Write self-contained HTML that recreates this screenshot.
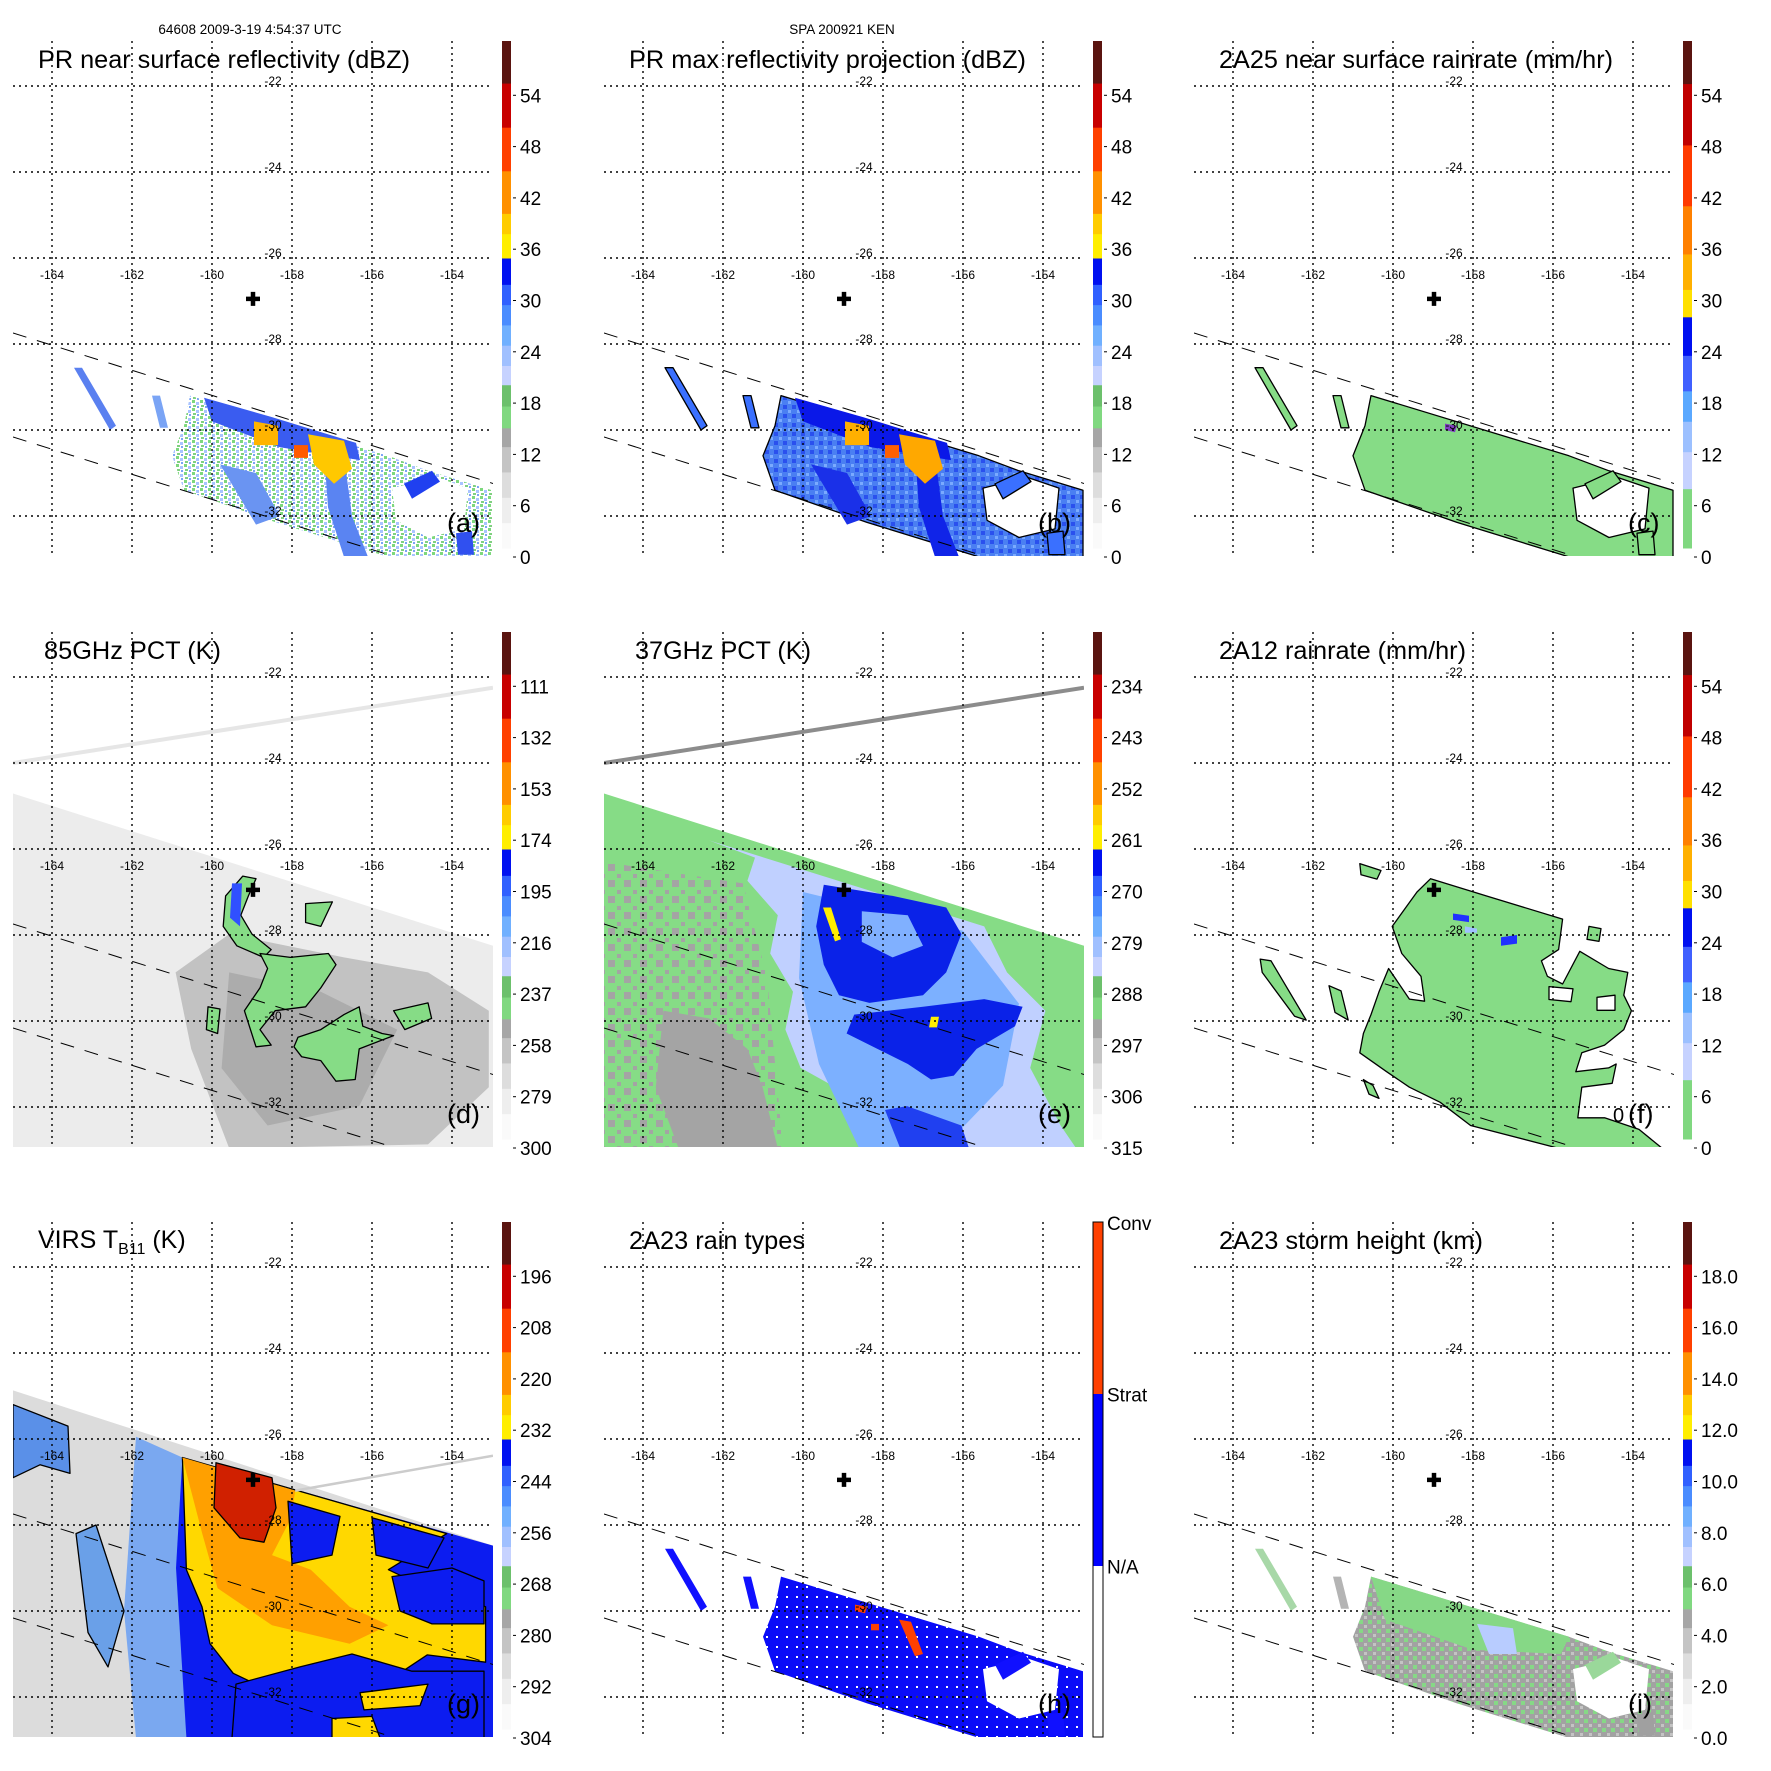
<!DOCTYPE html>
<html><head><meta charset="utf-8">
<style>
html,body{margin:0;padding:0;background:#fff;}
svg{display:block;font-family:"Liberation Sans",Arial,sans-serif;}
</style></head>
<body>
<svg id="fig" xmlns="http://www.w3.org/2000/svg" width="1771" height="1771" viewBox="0 0 1771 1771">
<defs>
<pattern id="spkA" width="8" height="8" patternUnits="userSpaceOnUse">
<rect x="0" y="0" width="3" height="3" fill="#7dd87d"/><rect x="4" y="2" width="3" height="3" fill="#a9c4ff"/>
<rect x="1" y="5" width="3" height="2" fill="#80d080"/><rect x="5" y="6" width="2" height="2" fill="#7aa4f5"/>
</pattern>
<pattern id="spkB" width="9" height="9" patternUnits="userSpaceOnUse">
<rect width="9" height="9" fill="#4a7ff2"/><rect x="0" y="0" width="4" height="4" fill="#2a50ee"/><rect x="5" y="5" width="3" height="3" fill="#7aaaff"/>
</pattern>
<pattern id="spkH" width="10" height="10" patternUnits="userSpaceOnUse">
<rect width="10" height="10" fill="#0a0cf8"/><rect x="6" y="6" width="2" height="2" fill="#ffffff"/>
</pattern>
<pattern id="spkI" width="9" height="9" patternUnits="userSpaceOnUse">
<rect width="9" height="9" fill="#a2a2a2"/><rect x="0" y="0" width="4" height="4" fill="#86d886"/><rect x="5" y="5" width="3" height="3" fill="#c4c4c4"/>
</pattern>
<pattern id="spkE" width="16" height="16" patternUnits="userSpaceOnUse">
<rect width="16" height="16" fill="#86dc86"/><rect x="0" y="0" width="7" height="7" fill="#a4a4a4"/><rect x="9" y="10" width="4" height="4" fill="#a4a4a4"/>
</pattern>
</defs>
<g id="layer"></g>
</svg>
<script>
// ---- layout (panel offsets) ----
const OX=[0,591,1181], OY=[0,591,1181];
// ---- axis data ----
const lonTicks=[-164,-162,-160,-158,-156,-154];
const latTicks=[-22,-24,-26,-28,-30,-32];
const panelLetters=['(a)','(b)','(c)','(d)','(e)','(f)','(g)','(h)','(i)'];
const titles=['PR near surface reflectivity (dBZ)','PR max reflectivity projection (dBZ)','2A25 near surface rainrate (mm/hr)','85GHz PCT (K)','37GHz PCT (K)','2A12 rainrate (mm/hr)','VIRS','2A23 rain types','2A23 storm height (km)'];
const titleLen=[372,397,394,177,176,247,0,176,264];
const centerLonLat=[-158.975,-26.95];
const swathUpper=[[-164.975,-27.744],[-152.975,-31.244]];
const swathLower=[[-164.975,-30.163],[-152.975,-33.663]];
// ---- colorbar tick labels (bottom to top) ----
const cbLabelsA=['0','6','12','18','24','30','36','42','48','54'];
const cbLabelsB=['0','6','12','18','24','30','36','42','48','54'];
const cbLabelsC=['0','6','12','18','24','30','36','42','48','54'];
const cbLabelsD=['300','279','258','237','216','195','174','153','132','111'];
const cbLabelsE=['315','306','297','288','279','270','261','252','243','234'];
const cbLabelsF=['0','6','12','18','24','30','36','42','48','54'];
const cbLabelsG=['304','292','280','268','256','244','232','220','208','196'];
const cbLabelsH=['N/A','Strat','Conv'];
const cbLabelsI=['0.0','2.0','4.0','6.0','8.0','10.0','12.0','14.0','16.0','18.0'];
// ---- colorbar bands [fromFrac,toFrac,color] ----
const bandsA=[[0,.05,'#fafafa'],[.05,.1,'#eeeeee'],[.1,.15,'#dddddd'],[.15,.2,'#c4c4c4'],[.2,.237,'#a6a6a6'],[.237,.28,'#80d880'],[.28,.322,'#6cc06c'],[.322,.36,'#c6d2ff'],[.36,.4,'#a0c0ff'],[.4,.44,'#70b0ff'],[.44,.48,'#4a8cff'],[.48,.52,'#3060ff'],[.52,.572,'#0010f0'],[.572,.62,'#ffee00'],[.62,.66,'#ffcc00'],[.66,.744,'#ff9000'],[.744,.83,'#ff4000'],[.83,.917,'#c80000'],[.917,1,'#5a1410']];
const bandsC=[[0,.117,'#80d880'],[.117,.19,'#c6d2ff'],[.19,.25,'#9cc0ff'],[.25,.31,'#5aa8ff'],[.31,.38,'#4060ff'],[.38,.456,'#0010f0'],[.456,.51,'#ffe000'],[.51,.58,'#ffb000'],[.58,.675,'#ff8000'],[.675,.795,'#ff3a00'],[.795,.916,'#c00000'],[.916,1,'#5a1410']];
const bandsH=[[0,.333,'#ffffff'],[.333,.667,'#0000ff'],[.667,1,'#ff4000']];
// ---- map features [lon,lat] ----
const MAIN=[[-160.55,-29.2],[-155.6,-30.6],[-154.6,-30.95],[-153.0,-31.4],[-153,-32.95],[-155.6,-32.95],[-158.4,-32.15],[-160.7,-31.4],[-161.0,-30.6],[-160.7,-29.9]];
const HOLE=[[-155.5,-31.35],[-154.4,-31.1],[-153.6,-31.35],[-153.7,-32.3],[-154.6,-32.5],[-155.4,-32.1]];
const STREAK1=[[-163.45,-28.55],[-163.25,-28.55],[-162.4,-29.9],[-162.55,-30.0]];
const STREAK2=[[-161.5,-29.2],[-161.3,-29.2],[-161.1,-29.95],[-161.3,-29.95]];
const BAND1=[[-160.2,-29.25],[-158.5,-29.7],[-156.4,-30.3],[-156.3,-30.7],[-158.3,-30.4],[-160.0,-29.8]];
const BAND2=[[-157.2,-30.5],[-156.7,-30.6],[-156.5,-32.0],[-156.1,-32.95],[-156.7,-32.95],[-157.1,-31.8]];
const BAND3=[[-159.8,-30.8],[-158.9,-31.0],[-158.3,-32.0],[-158.9,-32.2]];
const YEL1=[[-158.95,-29.8],[-158.35,-29.9],[-158.35,-30.35],[-158.95,-30.35]];
const YEL2=[[-157.6,-30.1],[-156.7,-30.25],[-156.5,-30.9],[-156.95,-31.25],[-157.45,-30.8]];
const ORG=[[-157.95,-30.35],[-157.6,-30.35],[-157.6,-30.65],[-157.95,-30.65]];
const RIGHTF=[[-155.2,-31.25],[-154.5,-30.95],[-154.3,-31.2],[-155.0,-31.6]];
const BLOBR=[[-153.9,-32.4],[-153.5,-32.35],[-153.45,-32.9],[-153.85,-32.9]];
const GREENI=[[-160.55,-29.2],[-155.6,-30.6],[-155.8,-31.0],[-158.0,-30.9],[-160.2,-30.2]];
const SPOTI=[[-157.9,-30.3],[-157.0,-30.4],[-156.9,-31.0],[-157.6,-31.0]];
const RED1=[[-158.7,-29.85],[-158.4,-29.9],[-158.45,-30.05],[-158.7,-30.0]];
const RED2=[[-157.6,-30.2],[-157.3,-30.25],[-157.0,-31.0],[-157.2,-31.05]];
const RED3=[[-158.3,-30.3],[-158.1,-30.3],[-158.1,-30.45],[-158.3,-30.45]];
const FIELD2=[[-164.975,-24.71],[-152.975,-28.25],[-152.975,-32.95],[-164.975,-32.95]];
const LINE2=[[-164.975,-24.0],[-152.975,-22.25]];
const FIELD3=[[-164.975,-24.87],[-152.975,-28.48],[-152.975,-32.95],[-164.975,-32.95]];
const LINE3=[[-157.92,-27.2],[-152.975,-26.39]];
// panel d
const D_DARK1=[[-160.91,-28.87],[-159.57,-27.98],[-156.7,-28.52],[-154.6,-28.87],[-153.08,-29.76],[-153.08,-31.54],[-154.6,-32.87],[-159.57,-32.96],[-160.52,-30.65]];
const D_DARK2=[[-159.57,-28.87],[-157.28,-29.32],[-155.37,-30.2],[-156.32,-31.98],[-158.61,-32.43],[-159.76,-31.1]];
const D_ARC=[[-159.23,-26.63],[-158.9,-26.69],[-159.09,-27.09],[-159.28,-27.54],[-159.0,-27.98],[-158.52,-28.34],[-158.71,-28.52],[-159.38,-28.25],[-159.72,-27.8],[-159.66,-27.09]];
const D_BODY=[[-158.8,-28.43],[-158.04,-28.52],[-157.09,-28.43],[-156.9,-28.69],[-157.28,-29.23],[-157.66,-29.67],[-158.42,-29.76],[-158.8,-30.2],[-158.52,-30.56],[-158.9,-30.6],[-159.19,-29.76],[-158.8,-29.23],[-158.61,-28.78]];
const D_B3=[[-157.66,-27.27],[-156.99,-27.23],[-157.28,-27.8],[-157.66,-27.71]];
const D_B4=[[-157.85,-30.38],[-157.28,-30.2],[-156.7,-29.85],[-156.32,-29.67],[-156.23,-30.12],[-155.75,-30.29],[-155.46,-30.34],[-156.32,-30.65],[-156.42,-31.36],[-156.9,-31.4],[-157.28,-30.92],[-157.76,-30.83],[-157.95,-30.6]];
const D_B5=[[-155.46,-29.76],[-154.6,-29.58],[-154.51,-29.94],[-155.18,-30.2]];
const D_B6=[[-160.1,-29.67],[-159.8,-29.72],[-159.86,-30.29],[-160.14,-30.2]];
const D_BLUE=[[-159.5,-26.8],[-159.25,-26.8],[-159.3,-27.8],[-159.55,-27.6]];
// panel e
const E_GRAYP=[[-164.975,-26.3],[-161.5,-26.8],[-160.9,-29.0],[-160.5,-32.95],[-164.975,-32.95]];
const E_GRAY=[[-163.49,-29.76],[-162.35,-29.94],[-161.39,-30.65],[-161.01,-31.54],[-160.63,-32.96],[-163.11,-32.96],[-163.68,-31.54]];
const E_LBLUE=[[-162.35,-25.8],[-155.47,-27.8],[-154.9,-28.87],[-153.94,-29.76],[-154.32,-31.09],[-153.56,-32.43],[-153.17,-32.96],[-157.38,-32.96],[-158.34,-31.98],[-160.06,-31.09],[-160.44,-30.2],[-160.25,-29.32],[-160.82,-28.43],[-160.63,-27.54],[-161.39,-26.74],[-161.2,-26.2]];
const E_MBLUE=[[-160.0,-27.0],[-156.0,-27.9],[-154.6,-29.6],[-155.0,-31.5],[-156.5,-32.95],[-158.6,-32.95],[-159.6,-31.0],[-160.1,-29.0]];
const E_DA=[[-159.48,-26.83],[-157.76,-27.09],[-156.42,-27.36],[-156.04,-27.98],[-156.42,-28.87],[-157.0,-29.4],[-158.34,-29.58],[-159.1,-29.4],[-159.48,-28.69],[-159.67,-27.8]];
const E_IN=[[-158.53,-27.45],[-157.38,-27.54],[-157.0,-28.25],[-157.76,-28.52],[-158.53,-28.16]];
const E_DB=[[-158.72,-29.85],[-157.0,-29.67],[-155.47,-29.49],[-154.51,-29.67],[-154.7,-30.12],[-155.66,-30.65],[-156.23,-31.27],[-156.8,-31.36],[-157.38,-31.0],[-158.14,-30.65],[-158.91,-30.29]];
const E_TAIL=[[-157.95,-32.07],[-157.4,-31.98],[-156.04,-32.43],[-155.85,-32.96],[-157.57,-32.96]];
const E_Y1=[[-159.5,-27.36],[-159.3,-27.36],[-159.05,-28.1],[-159.2,-28.15]];
const E_Y2=[[-156.8,-29.9],[-156.6,-29.9],[-156.65,-30.15],[-156.85,-30.15]];
// panel f
const F_MAIN=[[-159.06,-26.69],[-157.67,-27.09],[-155.76,-27.63],[-155.86,-28.34],[-156.29,-28.6],[-156.14,-28.96],[-155.76,-29.14],[-155.33,-28.38],[-154.61,-28.78],[-154.13,-28.87],[-154.23,-29.4],[-154.04,-29.76],[-154.23,-30.2],[-154.71,-30.56],[-155.28,-30.74],[-155.43,-31.18],[-154.61,-31.09],[-154.42,-31.0],[-154.52,-31.45],[-155.28,-31.54],[-155.38,-32.25],[-154.71,-32.25],[-153.85,-32.52],[-153.27,-32.96],[-155.86,-32.96],[-158.06,-32.43],[-158.82,-31.89],[-159.59,-31.54],[-160.16,-31.18],[-160.83,-30.74],[-160.74,-30.29],[-160.55,-29.85],[-160.35,-29.32],[-160.11,-28.78],[-159.59,-29.49],[-159.21,-29.54],[-159.3,-28.96],[-159.78,-28.43],[-160.02,-27.8],[-159.68,-27.36],[-159.4,-27.0]];
const F_HOLE1=[[-156.1,-29.2],[-155.5,-29.25],[-155.55,-29.55],[-156.1,-29.5]];
const F_HOLE2=[[-154.9,-29.45],[-154.45,-29.4],[-154.45,-29.75],[-154.9,-29.75]];
const F_S1=[[-163.32,-28.56],[-163.05,-28.6],[-162.17,-29.98],[-162.46,-29.89],[-163.27,-28.87]];
const F_S2=[[-161.6,-29.18],[-161.3,-29.3],[-161.12,-29.98],[-161.45,-29.8]];
const F_S3=[[-160.83,-26.34],[-160.3,-26.5],[-160.4,-26.7],[-160.8,-26.6]];
const F_S4=[[-160.74,-31.36],[-160.5,-31.5],[-160.35,-31.8],[-160.6,-31.7]];
const F_S5=[[-155.1,-27.8],[-154.8,-27.85],[-154.85,-28.15],[-155.15,-28.1]];
const F_BL1=[[-158.5,-27.5],[-158.1,-27.55],[-158.1,-27.7],[-158.5,-27.65]];
const F_BL2=[[-157.3,-28.05],[-156.9,-28.0],[-156.9,-28.2],[-157.3,-28.25]];
const F_BL3=[[-158.2,-27.8],[-157.9,-27.85],[-157.9,-27.95],[-158.2,-27.95]];
// panel g
const G_LB=[[-161.9,-25.95],[-160.74,-26.43],[-160.64,-32.95],[-161.9,-32.95],[-162.2,-30]];
const G_BL1=[[-164.975,-25.2],[-163.6,-25.7],[-163.55,-26.8],[-164.3,-26.6],[-164.975,-26.9]];
const G_BL2=[[-163.4,-28.2],[-162.9,-28.0],[-162.2,-30.0],[-162.6,-31.3],[-163.1,-30.5]];
const G_BLUE=[[-160.74,-26.43],[-152.975,-28.48],[-152.975,-32.95],[-160.64,-32.95],[-160.9,-29]];
const G_YEL=[[-160.74,-26.43],[-154.13,-28.2],[-155.59,-29.04],[-154.62,-29.47],[-153.16,-29.9],[-153.16,-31.19],[-154.62,-31.02],[-155.59,-31.62],[-156.76,-31.88],[-158.5,-31.88],[-159.47,-31.45],[-160.05,-30.76],[-160.25,-29.9],[-160.64,-29.04]];
const G_ORG=[[-160.74,-26.43],[-157.92,-27.2],[-158.02,-27.83],[-158.5,-28.7],[-157.53,-29.04],[-156.56,-29.9],[-155.59,-30.33],[-156.56,-30.76],[-158.5,-30.33],[-159.86,-29.47],[-160.25,-28.18]];
const G_RED=[[-159.9,-26.55],[-158.5,-26.9],[-158.4,-27.6],[-158.7,-28.4],[-159.3,-28.3],[-159.95,-27.6]];
const G_BP1=[[-158.1,-27.45],[-156.8,-27.8],[-157.0,-28.7],[-158.0,-28.9]];
const G_BP2=[[-156.0,-27.83],[-154.2,-28.3],[-154.6,-29.0],[-155.9,-28.7]];
const G_BP3=[[-157.8,-31.3],[-156.5,-31.0],[-155.0,-31.4],[-153.2,-31.4],[-153.2,-32.95],[-159.5,-32.95],[-159.4,-31.7]];
const G_YI1=[[-156.3,-31.9],[-154.6,-31.7],[-154.8,-32.2],[-156.2,-32.3]];
const G_YI2=[[-157.0,-32.5],[-156.0,-32.45],[-155.8,-32.95],[-157.0,-32.95]];
const G_BP4=[[-155.5,-29.2],[-154.0,-29.0],[-153.2,-29.3],[-153.2,-30.3],[-154.5,-30.3],[-155.3,-30.0]];

// ---- helpers ----
const NS='http://www.w3.org/2000/svg';
const root=document.getElementById('layer');
function X(p,lon){return OX[p%3]+52+(lon+164)*40;}
function Y(p,lat){return OY[Math.floor(p/3)]+86+(-22-lat)*43;}
function mk(tag,attrs,parent){const e=document.createElementNS(NS,tag);for(const k in attrs)e.setAttribute(k,attrs[k]);(parent||root).appendChild(e);return e;}
function poly(g,p,pts,fill,stroke,sw,name){
  const el=mk('polygon',{points:pts.map(q=>X(p,q[0]).toFixed(1)+','+Y(p,q[1]).toFixed(1)).join(' '),fill:fill,stroke:stroke||'none','stroke-width':sw||1.3,'stroke-linejoin':'round'},g);
  
  
  return el;
}
function line2(g,p,pts,color,w,dash,name){
  const el=mk('line',{x1:X(p,pts[0][0]),y1:Y(p,pts[0][1]),x2:X(p,pts[1][0]),y2:Y(p,pts[1][1]),stroke:color,'stroke-width':w},g);
  if(dash)el.setAttribute('stroke-dasharray',dash);
  
  
  return el;
}

const panelShapes=[
 [[MAIN,'url(#spkA)','none'],[HOLE,'#fff','none'],[BAND1,'#3a5cf0','none'],[BAND2,'#5a84f2','none'],[BAND3,'#6a94f2','none'],[YEL1,'#ffb400','none'],[YEL2,'#ffc800','none'],[ORG,'#ff5a00','none'],[STREAK1,'#5a80f0','none'],[STREAK2,'#7aa4f5','none'],[RIGHTF,'#2040f0','none'],[BLOBR,'#3050f0','none']],
 [[MAIN,'url(#spkB)','#000'],[HOLE,'#fff','#000'],[BAND1,'#0a18e8','none'],[BAND2,'#1024e8','none'],[BAND3,'#1a30e8','none'],[YEL1,'#ffb000','none'],[YEL2,'#ffa800','none'],[ORG,'#ff6000','none'],[STREAK1,'#3a70ff','#000'],[STREAK2,'#3a70ff','#000'],[RIGHTF,'#3a70ff','#000'],[BLOBR,'#3a70ff','#000']],
 [[MAIN,'#86dc86','#000'],[HOLE,'#fff','#000'],[STREAK1,'#86dc86','#000'],[STREAK2,'#86dc86','#000'],[RED1,'#8040c0','none'],[RIGHTF,'#86dc86','#000'],[BLOBR,'#86dc86','#000']],
 [[FIELD2,'#ececec','none'],[D_DARK1,'#c2c2c2','none'],[D_DARK2,'#acacac','none'],[D_ARC,'#86dc86','#000'],[D_BLUE,'#3050ff','none'],[D_BODY,'#86dc86','#000'],[D_B3,'#86dc86','#000'],[D_B4,'#86dc86','#000'],[D_B5,'#86dc86','#000'],[D_B6,'#86dc86','#000']],
 [[FIELD2,'#86dc86','none'],[E_GRAYP,'url(#spkE)','none'],[E_GRAY,'#a4a4a4','none'],[E_LBLUE,'#c0d0ff','none'],[E_MBLUE,'#7cb0ff','none'],[E_DA,'#0a22e8','none'],[E_IN,'#80b0ff','none'],[E_DB,'#0a22e8','none'],[E_TAIL,'#2040f0','none'],[E_Y1,'#ffee00','none'],[E_Y2,'#ffee00','none']],
 [[F_MAIN,'#86dc86','#000'],[F_HOLE1,'#fff','#000'],[F_HOLE2,'#fff','#000'],[F_S1,'#86dc86','#000'],[F_S2,'#86dc86','#000'],[F_S3,'#86dc86','#000'],[F_S4,'#86dc86','#000'],[F_S5,'#86dc86','#000'],[F_BL1,'#2030ff','none'],[F_BL2,'#2030ff','none'],[F_BL3,'#a0c0ff','none']],
 [[FIELD3,'#dcdcdc','none'],[G_LB,'#7aa8f0','none'],[G_BL1,'#5a90e8','#000'],[G_BL2,'#6aa0e8','#000'],[G_BLUE,'#0c1cf0','none'],[G_YEL,'#ffd800','#000'],[G_ORG,'#ffa000','none'],[G_RED,'#d02000','#000'],[G_BP1,'#0c1cf0','#000'],[G_BP2,'#0c1cf0','#000'],[G_BP4,'#0c1cf0','#000'],[G_BP3,'#0c1cf0','#000'],[G_YI1,'#ffd800','#000'],[G_YI2,'#ffd800','#000']],
 [[MAIN,'url(#spkH)','none'],[HOLE,'#fff','none'],[STREAK1,'#1010ff','none'],[STREAK2,'#1010ff','none'],[RED1,'#ff4000','none'],[RED2,'#ff4000','none'],[RED3,'#ff4000','none'],[RIGHTF,'#1010ff','none'],[BLOBR,'#1010ff','none']],
 [[MAIN,'url(#spkI)','none'],[GREENI,'#86d886','none'],[SPOTI,'#b8ccff','none'],[HOLE,'#fff','none'],[STREAK1,'#a8d8a8','none'],[STREAK2,'#b4b4b4','none'],[RIGHTF,'#9ad89a','none'],[BLOBR,'#a0a0a0','none']]
];
const panelLines=[null,null,null,[LINE2,'#e6e6e6',4],[LINE2,'#8c8c8c',4],null,[LINE3,'#cccccc',2.5],null,null];
const cbLabelSets=[cbLabelsA,cbLabelsB,cbLabelsC,cbLabelsD,cbLabelsE,cbLabelsF,cbLabelsG,cbLabelsH,cbLabelsI];
const cbBandSets=[bandsA,bandsA,bandsC,bandsA,bandsA,bandsC,bandsA,bandsH,bandsA];

// header
let t=mk('text',{x:250,y:34,'font-size':13.5,'text-anchor':'middle',fill:'#000'});
t.textContent='64608 2009-3-19 4:54:37 UTC';


t=mk('text',{x:842,y:34,'font-size':13.5,'text-anchor':'middle',fill:'#000'});
t.textContent='SPA 200921 KEN';



for(let p=0;p<9;p++){
  const ox=OX[p%3], oy=OY[Math.floor(p/3)];
  const g=mk('g',{});
  
  
  const cp=mk('clipPath',{id:'cp'+p},g);
  mk('rect',{x:ox+13,y:oy+41,width:480,height:515},cp);
  const dg=mk('g',{'clip-path':'url(#cp'+p+')'},g);
  
  
  panelShapes[p].forEach((s,i)=>poly(dg,p,s[0],s[1],s[2],1.3,'data-region-'+i));
  if(panelLines[p]) line2(dg,p,panelLines[p][0],panelLines[p][1],panelLines[p][2],null,'scan-edge-line');
  line2(dg,p,swathUpper,'#000',1,'14,11','swath-edge-upper');
  line2(dg,p,swathLower,'#000',1,'14,11','swath-edge-lower');
  // grid
  lonTicks.forEach(lon=>{
    const el=mk('line',{x1:X(p,lon),x2:X(p,lon),y1:oy+41,y2:oy+556,stroke:'#000','stroke-width':1.4,'stroke-dasharray':'2,4'},g);
    
    
    const tx=mk('text',{x:X(p,lon),y:oy+279,'font-size':12,'text-anchor':'middle',fill:'#000'},g);
    tx.textContent=String(lon);
    
    
  });
  latTicks.forEach(lat=>{
    const el=mk('line',{x1:ox+13,x2:ox+493,y1:Y(p,lat),y2:Y(p,lat),stroke:'#000','stroke-width':1.4,'stroke-dasharray':'2,4'},g);
    
    
    const tx=mk('text',{x:ox+273,y:Y(p,lat)-1,'font-size':12,'text-anchor':'middle',fill:'#000'},g);
    tx.textContent=String(lat);
    
    
  });
  // center cross
  const cx=X(p,centerLonLat[0]), cy=Y(p,centerLonLat[1]);
  const cr=mk('path',{d:`M${cx-7},${cy}H${cx+7}M${cx},${cy-7}V${cy+7}`,stroke:'#000','stroke-width':4.5},g);
  
  
  // title
  if(p===6){
    const tt=mk('text',{x:ox+38,y:oy+67,'font-size':25,fill:'#000'},g);
    tt.innerHTML='VIRS T<tspan font-size="16" dy="6">B11</tspan><tspan dy="-6"> (K)</tspan>';
    
    
  } else {
    const tt=mk('text',{x:ox+(p===3||p===4?44:38),y:oy+68,'font-size':25,fill:'#000',textLength:titleLen[p],lengthAdjust:'spacingAndGlyphs'},g);
    tt.textContent=titles[p];
    
    
  }
  const pl=mk('text',{x:ox+447,y:oy+532,'font-size':27,fill:'#000'},g);
  pl.textContent=panelLetters[p];
  
  
  if(p===5){
    ['0'].forEach(s=>{const z=mk('text',{x:ox+432,y:oy+531,'font-size':20,fill:'#000'},g);z.textContent=s;
    
    });
  }
  // colorbar
  const cb=mk('g',{},g);
  
  
  const bTop=oy+41, bBot=oy+(p===7?556:548), bh=bBot-bTop;
  cbBandSets[p].forEach(b=>{
    const r=mk('rect',{x:ox+502,y:bBot-b[1]*bh,width:(p===7?10:9),height:(b[1]-b[0])*bh+0.5,fill:b[2]},cb);
    
    
  });
  if(p===7){
    const r=mk('rect',{x:ox+502,y:bTop,width:10,height:bh,fill:'none',stroke:'#000','stroke-width':1},cb);
    
    
    cbLabelsH.forEach((s,i)=>{
      const fy=bBot-(i+1)/3*bh;
      const tx=mk('text',{x:ox+516,y:fy+8,'font-size':19,fill:'#000'},cb);
      tx.textContent=s;
      
      
    });
  } else {
    cbLabelSets[p].forEach((s,i)=>{
      const fy=oy+557-i*51.3;
      const tk=mk('line',{x1:ox+513,x2:ox+516,y1:fy,y2:fy,stroke:'#000','stroke-width':1},cb);
      
      
      const tx=mk('text',{x:ox+520,y:fy+7,'font-size':19,fill:'#000'},cb);
      tx.textContent=s;
      
      
    });
  }
}
</script>
</body></html>
